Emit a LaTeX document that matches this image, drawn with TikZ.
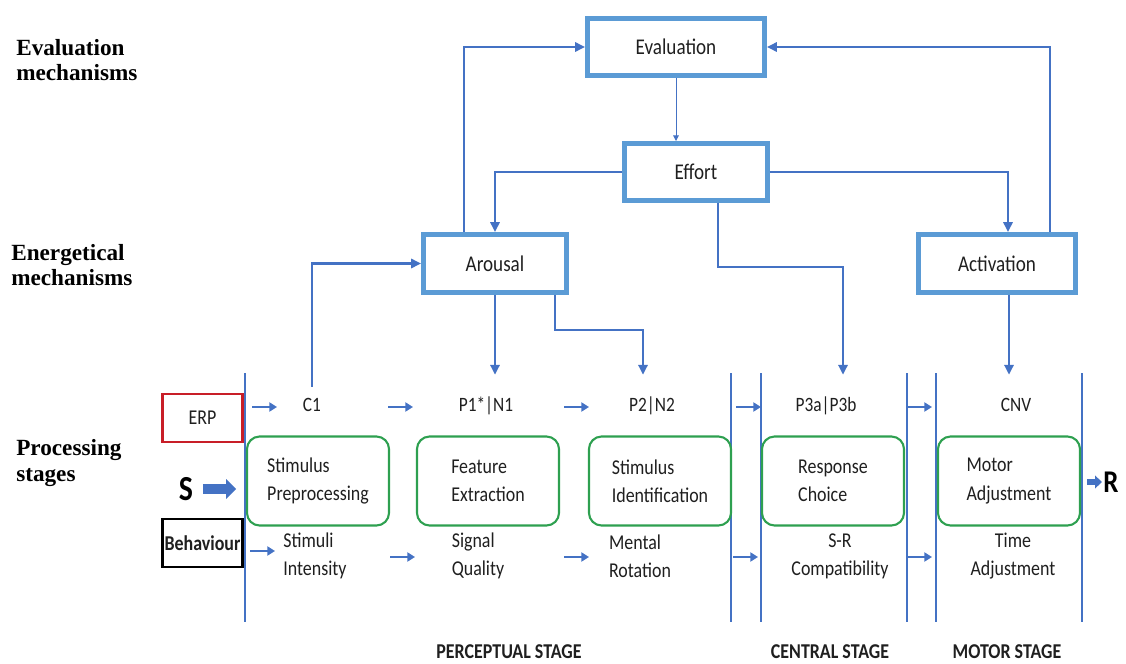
\documentclass[tikz,border=0pt]{standalone}
\usepackage{fontspec}
\setmainfont{Carlito}[FakeStretch=0.85]
\newfontfamily\serifbf{Liberation Serif}
\usetikzlibrary{arrows.meta}

\definecolor{boxblue}{HTML}{5B9BD5}
\definecolor{lineblue}{HTML}{4472C4}
\definecolor{stagegreen}{RGB}{46,160,80}
\definecolor{erpred}{RGB}{200,30,40}

\tikzset{
  sidelabel/.style={anchor=west, align=left, inner sep=0pt,
    font=\serifbf\bfseries\fontsize{16.5}{18}\selectfont},
  mech/.style={draw=boxblue, line width=3.5pt, minimum height=1.425cm,
    font=\fontsize{16}{18}\selectfont},
  stagebox/.style={draw=stagegreen, line width=1.5pt, rounded corners=9pt,
    minimum width=3.55cm, minimum height=2.225cm, align=left,
    font=\fontsize{15}{20}\selectfont},
  erplab/.style={text height=10pt, text depth=3.5pt, inner ysep=7.5pt,
    font=\fontsize{14.5}{16}\selectfont},
  behlab/.style={align=center, font=\fontsize{15}{20}\selectfont},
  rowbox/.style={line width=1.8pt, minimum width=2cm, minimum height=1.2cm,
    inner sep=1pt, font=\fontsize{15}{18}\selectfont},
  bigletter/.style={inner sep=0pt, font=\bfseries\fontsize{25}{28}\selectfont},
  stagelab/.style={font=\bfseries\fontsize{15}{18}\selectfont},
  sepline/.style={draw=lineblue, line width=1pt},
  conn/.style={draw=lineblue, line width=1.8pt, -{Triangle[length=7pt,width=6.5pt]}},
  thinconn/.style={draw=lineblue, line width=0.7pt, -{Triangle[length=4pt,width=4pt]}},
  tolabel/.style={shorten >=8.5pt},
  rowarrow/.style={draw=lineblue, line width=2.1pt, -{Triangle[length=5.5pt,width=6.5pt]}},
  fatarrow/.style={draw=lineblue, line width=7pt, -{Triangle[length=7pt,width=13.5pt]}},
}

\begin{document}
\begin{tikzpicture}[x=0.025cm, y=-0.025cm, color=black!88]
\useasboundingbox (0,0) rectangle (1126,664);

% Level labels
\node[sidelabel, black] (evallab) at (16,60) {Evaluation\\mechanisms};
\node[sidelabel, black] (enerlab) at (11,265) {Energetical\\mechanisms};
\node[sidelabel, black] (proclab) at (16,463) {Processing\\stages};

% Evaluation and energetical mechanisms
\node[mech, minimum width=4.425cm] (evaluation) at (676,47) {Evaluation};
\node[mech, minimum width=3.575cm] (effort) at (696,172) {Effort};
\node[mech, minimum width=3.575cm, minimum height=1.45cm] (arousal) at (495,263.5) {Arousal};
\node[mech, minimum width=3.925cm, minimum height=1.45cm] (activation) at (997,263.5) {Activation};

% Stage separators
\foreach \x in {245,731,761,907,936,1082}
  \draw[sepline] (\x,373) -- (\x,622);

% Processing stages
\node[stagebox] (prep) at (318,481) {Stimulus\\Preprocessing};
\node[stagebox] (feat) at (488,481) {Feature\\Extraction};
\node[stagebox] (ident) at (660,481) {Stimulus\\Identification};
\node[stagebox] (resp) at (833,481) {Response\\Choice};
\node[stagebox] (motor) at (1009,481) {Motor\\Adjustment};

% ERP components
\node[erplab] (c1) at (312,407) {C1};
\node[erplab] (p1) at (486,407) {P1*|N1};
\node[erplab] (p2) at (652,407) {P2|N2};
\node[erplab] (p3) at (826,407) {P3a|P3b};
\node[erplab] (cnv) at (1016,407) {CNV};

% Behavioural measures
\node[behlab, align=left] (intens) at (315,556) {Stimuli\\Intensity};
\node[behlab, align=left] (signal) at (478,556) {Signal\\Quality};
\node[behlab, align=left] (rotat) at (640,556) {Mental\\Rotation};
\node[behlab] (compat) at (840,556) {S-R\\Compatibility};
\node[behlab] (timeadj) at (1013,556) {Time\\Adjustment};

% Row headers
\node[rowbox, draw=erpred] (erp) at (202.5,418) {ERP};
\node[rowbox, draw=black, font=\bfseries\fontsize{15}{18}\selectfont] (behav) at (202.5,543) {Behaviour};

% Stimulus and response
\node[bigletter, black] (s) at (186,489) {S};
\node[bigletter, black, font=\bfseries\fontsize{22.5}{26}\selectfont] (r) at (1111,482) {R};
\draw[fatarrow, shorten <=6.8pt, shorten >=7pt] (s.east) -- (s.east -| prep.west);
\draw[fatarrow, line width=4.3pt, -{Triangle[length=5pt,width=9pt]}, shorten <=4.5pt, shorten >=0.8pt] (r.west -| motor.east) -- (r.west);

% Small arrows along the rows
\foreach \i/\x/\y in {1/252/407, 2/388/407, 3/564/407, 4/736/407, 5/907/407,
                      6/250/551, 7/390/557, 8/564/557, 9/733/557, 10/907/557}
  {\coordinate (ra\i) at (\x,\y);
   \draw[rowarrow] (ra\i) -- ++(25,0);}

% Connectors
\draw[conn] (c1.north) |- (arousal.west);
\draw[conn, tolabel] (arousal.south) -- (arousal.south |- p1.north);
\draw[conn, tolabel] ([xshift=1.5cm]arousal.south) -- ++(0,35) -| ([xshift=-0.225cm]p2.north);
\draw[conn] (effort.west) -| (arousal.north);
\draw[conn] (effort.east) -| ([xshift=0.275cm]activation.north);
\draw[conn, tolabel] ([xshift=0.55cm]effort.south) -- ++(0,64) -| ([xshift=0.425cm]p3.north);
\draw[conn, tolabel] ([xshift=0.3cm]activation.south) -- ([xshift=0.3cm]activation.south |- cnv.north);
\draw[conn] ([xshift=-0.775cm]arousal.north) |- (evaluation.west);
\draw[conn] ([xshift=1.325cm]activation.north) |- (evaluation.east);
\draw[thinconn] (evaluation.south) -- (evaluation.south |- effort.north);

% Stage names
\node[stagelab] (percst) at (509,652) {PERCEPTUAL STAGE};
\node[stagelab] (centst) at (830,652) {CENTRAL STAGE};
\node[stagelab] (motst) at (1007,652) {MOTOR STAGE};

\end{tikzpicture}
\end{document}
